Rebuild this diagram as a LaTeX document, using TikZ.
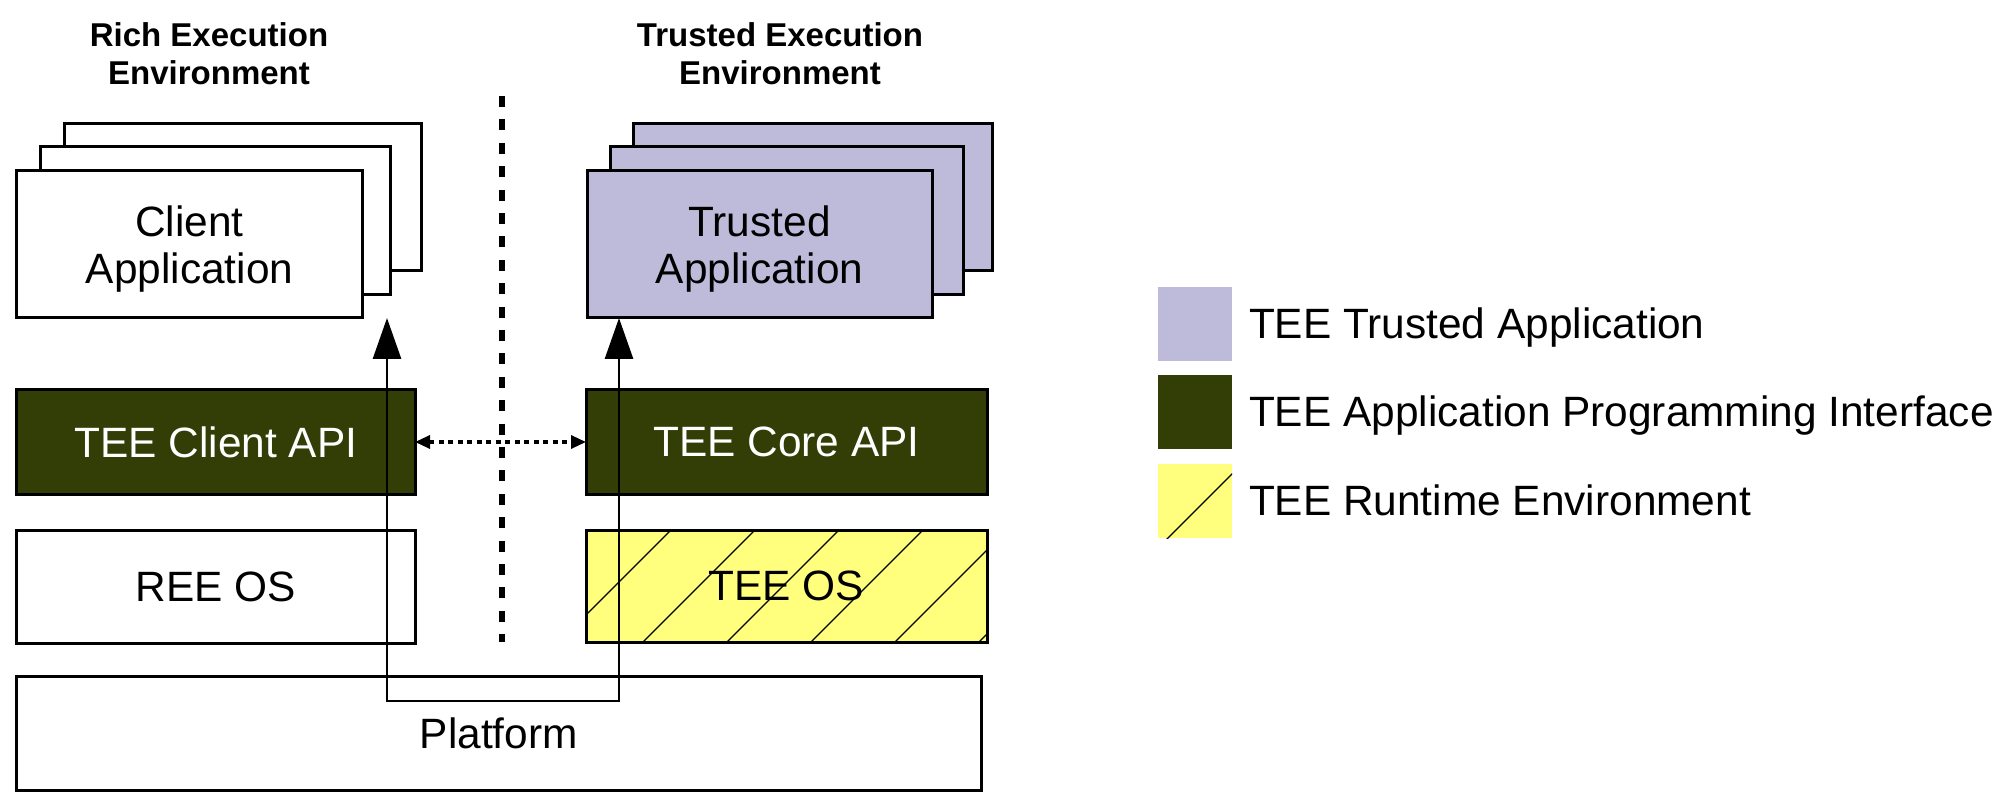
\documentclass[tikz,border=0pt]{standalone}
\usepackage{fontspec}
\setmainfont{Liberation Sans}
\usetikzlibrary{arrows.meta}
\definecolor{lav}{RGB}{190,186,218}
\definecolor{dgreen}{RGB}{51,62,6}
\definecolor{yel}{RGB}{255,255,125}
\begin{document}
\begin{tikzpicture}[x=0.5pt,y=-0.5pt,
  box/.style={rectangle, draw=black, line width=1.5pt, inner sep=0pt, outer sep=0pt},
  txt/.style={font=\fontsize{21.2}{23.75}\selectfont, inner sep=0pt, outer sep=0pt},
  head/.style={font=\fontsize{16.5}{19}\selectfont\bfseries, inner sep=0pt, outer sep=0pt, align=center},
  leg/.style={rectangle, draw=none, minimum size=37pt, inner sep=0pt, outer sep=0pt},
  hatch/.style={line width=0.6pt, black},
  sepline/.style={line width=2.75pt, dash pattern=on 5.5pt off 6.2pt},
  dotarr/.style={line width=1.6pt, dash pattern=on 2.5pt off 2.25pt,
    {Triangle[length=7.5pt,width=6.5pt]}-{Triangle[length=7.5pt,width=6.5pt]}},
  bigarr/.style={line width=1.4pt,
    {Triangle[length=20.5pt,width=14pt]}-{Triangle[length=20.5pt,width=14pt]}}
]
\useasboundingbox (0,0) rectangle (2000,806);

% headings
\node[head] (reeh) at (209,53.5) {Rich Execution\\Environment};
\node[head] (teeh) at (780,53.5) {Trusted Execution\\Environment};

% client application stack
\node[box, fill=white, minimum width=178.5pt, minimum height=73.5pt] (cab) at (242.5,197.5) {};
\node[box, fill=white, minimum width=175pt, minimum height=74pt] (cam) at (215,221) {};
\node[box, fill=white, minimum width=172.75pt, minimum height=73.5pt] (ca) at (189.25,244.5) {};
\node[txt, align=center] (catx) at (189.5,249) {Client\\Application};

% trusted application stack
\node[box, fill=lav, minimum width=179.5pt, minimum height=73.5pt] (tab) at (812.5,197.5) {};
\node[box, fill=lav, minimum width=176.5pt, minimum height=74pt] (tam) at (786.5,221) {};
\node[box, fill=lav, minimum width=172.5pt, minimum height=73.5pt] (ta) at (759.5,244.5) {};
\node[txt, align=center] (tatx) at (759.5,249) {Trusted\\Application};

% API layer
\node[box, fill=dgreen, text=white, txt, minimum width=199.25pt, minimum height=52pt] (capi) at (215.75,442) {TEE Client API};
\node[box, fill=dgreen, text=white, txt, minimum width=200.5pt, minimum height=52pt] (coreapi) at (786.5,442) {TEE Core API};

% OS layer
\node[box, fill=white, txt, minimum width=199.25pt, minimum height=56.5pt] (reeos) at (215.75,586.5) {REE OS};
\node[box, fill=yel, minimum width=200.5pt, minimum height=56.25pt] (teeos) at (786.5,586.25) {};
\begin{scope}
  \clip (teeos.south west) rectangle (teeos.north east);
  \foreach \c in {1117,1201,1285,1369,1453,1537,1621}
    \draw[hatch] (\c-480,480) -- (\c-700,700);
\end{scope}
\draw[box, fill=none] (teeos.south west) rectangle (teeos.north east);
\node[txt] (teeostx) at (teeos.center) {TEE OS};

% platform
\node[box, fill=white, txt, minimum width=482.25pt, minimum height=57pt] (plat) at (498.75,733) {Platform};

% separator
\coordinate (dtop) at (502,96);
\coordinate (dbot) at (502,642);
\draw[sepline] (dtop) -- (dbot);

% dotted arrow between APIs
\draw[dotarr] (capi.east) -- (coreapi.west);

% platform path arrows
\coordinate (jl) at (387,701);
\coordinate (jr) at (619,701);
\draw[bigarr] (ca.south -| jl) -- (jl) -- (jr) -- (ta.south -| jr);

% legend
\node[leg, fill=lav] (l1) at (1195,324) {};
\node[leg, fill=dgreen] (l2) at (1195,412.5) {};
\node[leg, fill=yel] (l3) at (1195,501) {};
\begin{scope}
  \clip (l3.south west) rectangle (l3.north east);
  \draw[hatch] (1706-560,560) -- (1706-440,440);
\end{scope}
\node[txt, anchor=base west] (l1t) at (1249,339) {TEE Trusted Application};
\node[txt, anchor=base west] (l2t) at (1249,427) {TEE Application Programming Interface};
\node[txt, anchor=base west] (l3t) at (1249,516) {TEE Runtime Environment};
\end{tikzpicture}
\end{document}
